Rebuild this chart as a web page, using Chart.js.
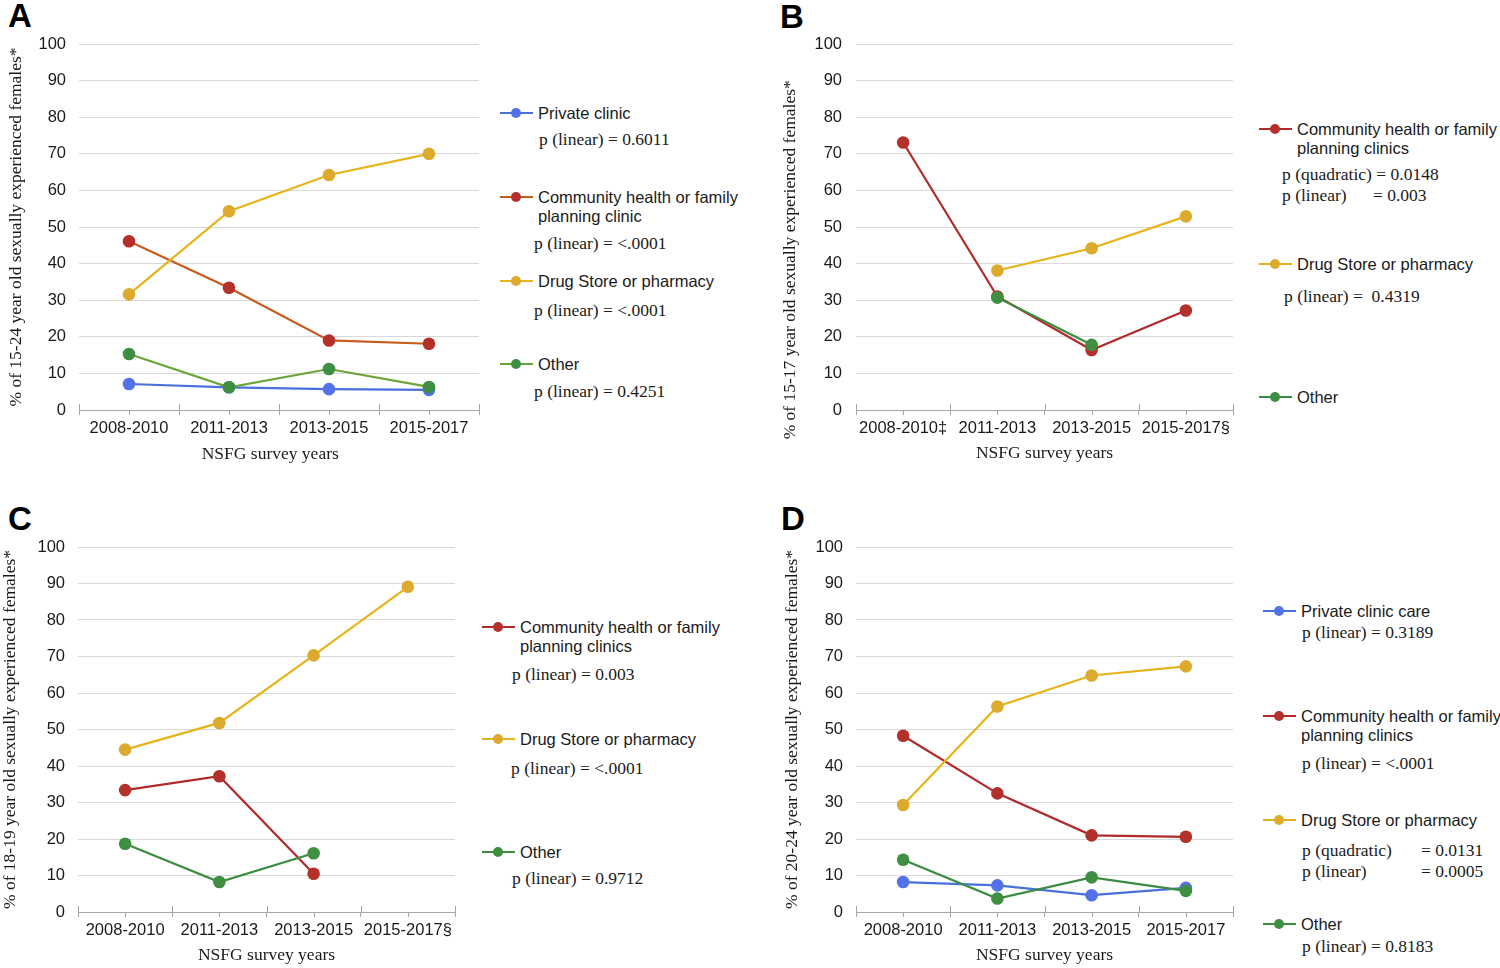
<!DOCTYPE html>
<html>
<head>
<meta charset="utf-8">
<script src="https://cdn.jsdelivr.net/npm/chart.js@4.4.0/dist/chart.umd.min.js"></script>
<style>
  body { margin: 0; background: #fff; width: 1500px; height: 968px; position: relative; overflow: hidden;
         font-family: "Liberation Sans", Arial, sans-serif; color: #1a1a1a; }
  canvas { position: absolute; }
  .panel { position: absolute; font: bold 33px/33px "Liberation Sans", Arial, sans-serif; color: #000; }
  .t { position: absolute; white-space: nowrap; font-size: 16.5px; line-height: 20px; }
  .p { position: absolute; white-space: pre; font: 17.5px/20px "Liberation Serif", "Times New Roman", serif; }
  .key { position: absolute; width: 33px; height: 2px; }
  .key i { position: absolute; left: 11px; top: -4px; width: 10px; height: 10px; border-radius: 50%; }
</style>
</head>
<body>
<div class="panel" style="left:8px;top:-1px">A</div>
<div class="panel" style="left:780px;top:0px">B</div>
<div class="panel" style="left:8px;top:502px">C</div>
<div class="panel" style="left:781px;top:502px">D</div>

<canvas id="chartA" width="490" height="470" style="left:0px;top:0px"></canvas>
<canvas id="chartB" width="480" height="470" style="left:770px;top:0px"></canvas>
<canvas id="chartC" width="470" height="468" style="left:0px;top:500px"></canvas>
<canvas id="chartD" width="480" height="468" style="left:775px;top:500px"></canvas>

<script>
// categories
const years = ['2008-2010', '2011-2013', '2013-2015', '2015-2017'];
const yearsB = ['2008-2010\u2021', '2011-2013', '2013-2015', '2015-2017\u00a7'];
const yearsC = ['2008-2010', '2011-2013', '2013-2015', '2015-2017\u00a7'];

// y axis range
const yMin = 0;
const yMax = 100;
const yStep = 10;

// A: 15-24 year olds
const privateA = [7.1, 6.2, 5.7, 5.5];
const communityA = [46.1, 33.4, 19.0, 18.1];
const drugA = [31.6, 54.3, 64.2, 70.0];
const otherA = [15.3, 6.2, 11.2, 6.3];

// B: 15-17 year olds
const communityB = [73.1, 31.0, 16.4, 27.2];
const drugB = [null, 38.1, 44.2, 52.9];
const otherB = [null, 30.7, 17.8, null];

// C: 18-19 year olds
const communityC = [33.4, 37.2, 10.5, null];
const drugC = [44.5, 51.8, 70.3, 89.1];
const otherC = [18.7, 8.2, 16.1, null];

// D: 20-24 year olds
const privateD = [8.2, 7.3, 4.6, 6.6];
const communityD = [48.3, 32.5, 21.0, 20.6];
const drugD = [29.3, 56.3, 64.8, 67.3];
const otherD = [14.3, 3.7, 9.5, 5.8];

const SANS = '"Liberation Sans", Arial, sans-serif';
const SERIF = '"Liberation Serif", "Times New Roman", serif';
const INK = '#1a1a1a';
const AXIS = '#a6a6a6';
const NB = '\u00a0';

const col = {
    privLine: '#4a70dc', privDot: '#5372ea',
    commLineA: '#c65b1c', commLine: '#b02a2a', commDot: '#b3302b',
    drugLine: '#e6b41a', drugDot: '#dcaa2c',
    otherLineA: '#6ba53a', otherLine: '#3b8c3e', otherDot: '#3f8f42'
};

// tick marks on the x axis: boundaries cross the axis, centres hang below
const xTickMarks = {
    id: 'xTickMarks',
    afterDraw(chart) {
        const sx = chart.scales.x;
        const ctx = chart.ctx;
        const y0 = chart.chartArea.bottom;
        const half = (sx.getPixelForValue(1) - sx.getPixelForValue(0)) / 2;
        ctx.save();
        ctx.strokeStyle = AXIS;
        ctx.lineWidth = 1;
        ctx.beginPath();
        for (let i = 0; i < sx.ticks.length; i++) {
            const c = Math.round(sx.getPixelForValue(i)) + 0.5;
            ctx.moveTo(c, y0);
            ctx.lineTo(c, y0 + 5);
            const b = Math.round(sx.getPixelForValue(i) - half) + 0.5;
            ctx.moveTo(b, y0 - 6);
            ctx.lineTo(b, y0);
        }
        const last = Math.round(sx.getPixelForValue(sx.ticks.length - 1) + half) + 0.5;
        ctx.moveTo(last, y0 - 6);
        ctx.lineTo(last, y0);
        ctx.stroke();
        ctx.restore();
    }
};

function series(data, line, dot, order) {
    return {
        data, order,
        borderColor: line,
        backgroundColor: dot,
        pointBackgroundColor: dot,
        pointBorderColor: dot,
        pointRadius: 6.3,
        pointBorderWidth: 0,
        borderWidth: 2.2,
        tension: 0
    };
}

function makeChart(id, labels, datasets, box) {
    return new Chart(document.getElementById(id), {
        type: 'line',
        data: { labels, datasets },
        plugins: [xTickMarks],
        options: {
            responsive: false,
            animation: false,
            devicePixelRatio: 1,
            layout: { padding: { top: box.top, right: box.right, left: 0, bottom: 0 } },
            plugins: { legend: { display: false }, tooltip: { enabled: false } },
            scales: {
                x: {
                    offset: true,
                    ticks: { padding: 4, color: INK, maxRotation: 0, autoSkip: false, font: { family: SANS, size: 16.5 } },
                    grid: { offset: true, drawOnChartArea: false, drawTicks: true, tickLength: 5, color: AXIS },
                    border: { display: true, color: AXIS },
                    title: { display: true, text: 'NSFG survey years' + NB.repeat(box.xTitleShift || 0), color: INK,
                             font: { family: SERIF, size: 17.5 }, padding: { top: 0, bottom: box.xTitlePad } },
                    afterFit: s => { s.height = box.xHeight; }
                },
                y: {
                    min: yMin, max: yMax,
                    ticks: { stepSize: yStep, padding: box.tickPad, color: INK, font: { family: SANS, size: 16.5 } },
                    grid: { color: '#d9d9d9', drawTicks: false },
                    border: { display: false },
                    title: { display: true, text: box.yTitle + NB.repeat(box.yTitleShift || 0), color: INK,
                             font: { family: SERIF, size: 17.5 }, padding: { top: box.yTitlePad, bottom: 0 } },
                    afterFit: s => { s.width = box.yWidth; }
                }
            }
        }
    });
}

makeChart('chartA', years, [
    series(otherA, col.otherLineA, col.otherDot, 0),
    series(drugA, col.drugLine, col.drugDot, 1),
    series(communityA, col.commLineA, col.commDot, 2),
    series(privateA, col.privLine, col.privDot, 3)
], { top: 44, right: 11, yWidth: 79, xHeight: 60, tickPad: 13, yTitlePad: 6, xTitlePad: 5, xTitleShift: 4,
     yTitle: '% of 15-24 year old sexually experienced females*' });

makeChart('chartB', yearsB, [
    series(otherB, col.otherLine, col.otherDot, 0),
    series(drugB, col.drugLine, col.drugDot, 1),
    series(communityB, col.commLine, col.commDot, 2)
], { top: 44, right: 17, yWidth: 86, xHeight: 60, tickPad: 14, yTitlePad: 10, xTitlePad: 6, yTitleShift: 15,
     yTitle: '% of 15-17 year old sexually experienced females*' });

makeChart('chartC', yearsC, [
    series(otherC, col.otherLine, col.otherDot, 0),
    series(drugC, col.drugLine, col.drugDot, 1),
    series(communityC, col.commLine, col.commDot, 2)
], { top: 47, right: 15, yWidth: 78, xHeight: 56, tickPad: 13, yTitlePad: 0, xTitlePad: 2,
     yTitle: '% of 18-19 year old sexually experienced females*' });

makeChart('chartD', years, [
    series(otherD, col.otherLine, col.otherDot, 0),
    series(drugD, col.drugLine, col.drugDot, 1),
    series(communityD, col.commLine, col.commDot, 2),
    series(privateD, col.privLine, col.privDot, 3)
], { top: 47, right: 22, yWidth: 81, xHeight: 56, tickPad: 13, yTitlePad: 7, xTitlePad: 2,
     yTitle: '% of 20-24 year old sexually experienced females*' });

// legends
function add(cls, x, y, text) {
    const d = document.createElement('div');
    d.className = cls;
    d.style.left = x + 'px';
    d.style.top = (y - 10) + 'px';
    d.textContent = text;
    document.body.appendChild(d);
}
function key(x, y, line, dot, lines) {
    const k = document.createElement('div');
    k.className = 'key';
    k.style.left = x + 'px';
    k.style.top = (y - 1) + 'px';
    k.style.background = line;
    const i = document.createElement('i');
    i.style.background = dot;
    k.appendChild(i);
    document.body.appendChild(k);
    lines.forEach((t, n) => add('t', x + 38, y + n * 19, t));
}
const pv = (x, y, text) => add('p', x, y, text);

const commLabel = ['Community health or family', 'planning clinics'];
const drugLabel = ['Drug Store or pharmacy'];

// A
key(500, 113, col.privLine, col.privDot, ['Private clinic']);
pv(539, 139, 'p (linear) = 0.6011');
key(500, 197, col.commLineA, col.commDot, ['Community health or family', 'planning clinic']);
pv(534, 243, 'p (linear) = <.0001');
key(500, 281, col.drugLine, col.drugDot, drugLabel);
pv(534, 310, 'p (linear) = <.0001');
key(500, 364, col.otherLineA, col.otherDot, ['Other']);
pv(534, 391, 'p (linear) = 0.4251');

// B
key(1259, 129, col.commLine, col.commDot, commLabel);
pv(1282, 174, 'p (quadratic) = 0.0148');
pv(1282, 195, 'p (linear)');
pv(1373, 195, '= 0.003');
key(1259, 264, col.drugLine, col.drugDot, drugLabel);
pv(1284, 296, 'p (linear) =  0.4319');
key(1259, 397, col.otherLine, col.otherDot, ['Other']);

// C
key(482, 627, col.commLine, col.commDot, commLabel);
pv(512, 674, 'p (linear) = 0.003');
key(482, 739, col.drugLine, col.drugDot, drugLabel);
pv(511, 768, 'p (linear) = <.0001');
key(482, 852, col.otherLine, col.otherDot, ['Other']);
pv(512, 878, 'p (linear) = 0.9712');

// D
key(1263, 611, col.privLine, col.privDot, ['Private clinic care']);
pv(1302, 632, 'p (linear) = 0.3189');
key(1263, 716, col.commLine, col.commDot, commLabel);
pv(1302, 763, 'p (linear) = <.0001');
key(1263, 820, col.drugLine, col.drugDot, drugLabel);
pv(1302, 850, 'p (quadratic)');
pv(1421, 850, '= 0.0131');
pv(1302, 871, 'p (linear)');
pv(1421, 871, '= 0.0005');
key(1263, 924, col.otherLine, col.otherDot, ['Other']);
pv(1302, 946, 'p (linear) = 0.8183');
</script>
</body>
</html>
